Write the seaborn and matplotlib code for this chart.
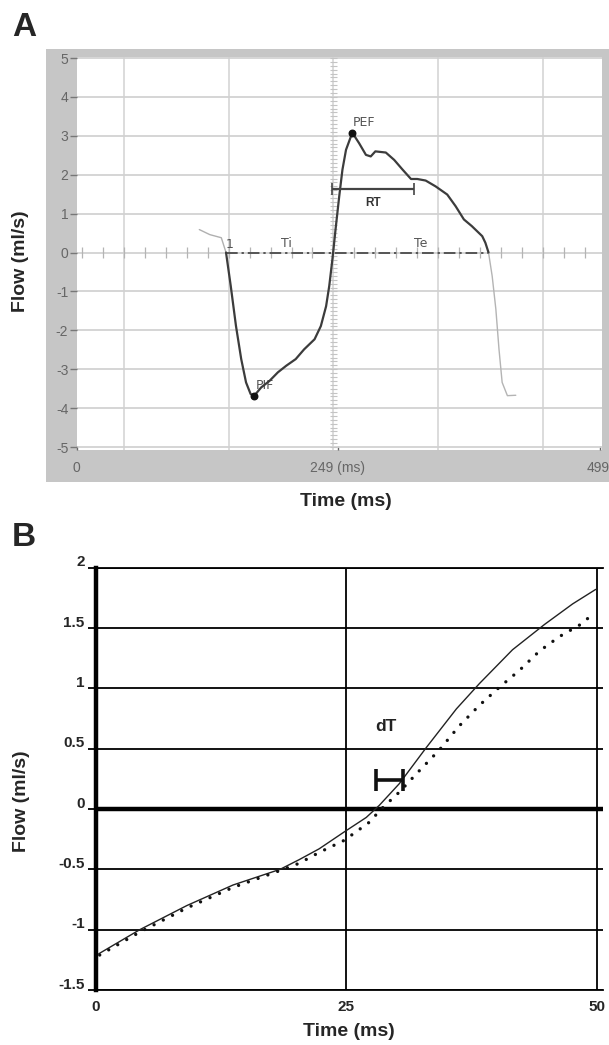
import numpy as np
import pandas as pd
import matplotlib
matplotlib.use("Agg")
import matplotlib.pyplot as plt
import seaborn as sns
from matplotlib.patches import Rectangle
from matplotlib.transforms import ScaledTranslation

# ---------------- data: panel A (Time ms, Flow ml/s) ----------------
pre_t = [117, 127, 138, 142.5]
pre_f = [0.59, 0.46, 0.38, 0.0]
main_t = [142.5, 147, 152, 157, 161.6, 166, 169.5, 176, 184, 192, 200, 209, 217, 227,
          233, 238, 241, 244, 247, 250.5, 253.6, 257, 263, 269.5, 276, 280.6, 285, 295,
          303, 311, 319, 325, 333, 342.5, 353.6, 361.6, 369.5, 377, 387, 390, 393]
main_f = [0, -0.86, -1.89, -2.74, -3.34, -3.64, -3.68, -3.47, -3.3, -3.08, -2.91, -2.74,
          -2.49, -2.23, -1.89, -1.38, -0.86, -0.18, 0.59, 1.44, 2.13, 2.64, 3.08, 2.81,
          2.51, 2.47, 2.6, 2.57, 2.38, 2.13, 1.89, 1.89, 1.85, 1.7, 1.49, 1.19, 0.85,
          0.68, 0.42, 0.25, 0]
post_t = [393, 396.5, 400, 403, 406, 411, 419]
post_f = [0, -0.61, -1.46, -2.49, -3.34, -3.68, -3.67]

pif_t, pif_f = 169.5, -3.68
pef_t, pef_f = 263, 3.08
ti_start, te_end = 142.5, 393
rt_start, rt_end, rt_flow = 244, 322, 1.64

a_xticks = [0, 249, 499]
a_xticklabels = ["0", "249 (ms)", "499"]
a_yticks = [5, 4, 3, 2, 1, 0, -1, -2, -3, -4, -5]
a_grid_x = [45, 145, 245, 345, 445]
a_center_axis = 245

# ---------------- data: panel B ----------------
solid_t = [0.3, 4.4, 9.1, 13.7, 18.4, 20.3, 22.3, 24.8, 27.0, 28.3, 30.3, 33.0, 36.0,
           38.3, 41.6, 44.8, 47.6, 49.9]
solid_f = [-1.2, -1.0, -0.8, -0.63, -0.5, -0.42, -0.33, -0.19, -0.07, 0.03, 0.21, 0.51,
           0.83, 1.04, 1.32, 1.53, 1.70, 1.82]
dot_t = [0.4, 4.4, 9.1, 13.7, 18.4, 20.3, 22.3, 24.8, 27.3, 28.5, 30.3, 32.1, 34.3,
         36.3, 38.3, 40.3, 42.3, 44.3, 46.3, 48.4, 49.4]
dot_f = [-1.21, -1.02, -0.82, -0.65, -0.51, -0.45, -0.36, -0.26, -0.11, 0.0, 0.14, 0.30,
         0.49, 0.69, 0.86, 1.01, 1.15, 1.31, 1.43, 1.53, 1.60]
dt_start, dt_end, dt_flow = 28.0, 30.7, 0.24
b_xticks = [0, 25, 50]
b_yticks = [-1.5, -1, -0.5, 0, 0.5, 1, 1.5, 2]
b_yticklabels = ["-1.5", "-1", "-0.5", "0", "0.5", "1", "1.5", "2"]

# ---------------- figure ----------------
sns.set_theme(style="white")
plt.rcParams["font.family"] = ["Liberation Sans", "DejaVu Sans"]
plt.rcParams["axes.unicode_minus"] = False

W, H = 609, 1045
fig = plt.figure(figsize=(W / 100, H / 100), dpi=100)
fig.patch.set_facecolor("white")


def fx(px):
    return px / W


def fy(py):
    return 1 - py / H


# gray frame behind panel A
fig.patches.append(Rectangle((fx(46), fy(482)), fx(620) - fx(46), fy(49) - fy(482),
                             transform=fig.transFigure, facecolor="#c6c6c6",
                             edgecolor="none", zorder=-10))

# ---------------- panel A ----------------
axA = fig.add_axes([fx(76.7), fy(450), fx(601.7) - fx(76.7), fy(57) - fy(450)])
axA.set_facecolor("white")
axA.set_xlim(0, 501)
axA.set_ylim(-5.077, 5.026)
for s in axA.spines.values():
    s.set_visible(False)

axA.set_yticks(a_yticks)
axA.set_yticklabels([str(v) for v in a_yticks])
axA.set_xticks(a_xticks)
axA.set_xticklabels(a_xticklabels)
axA.set_xticks(a_grid_x, minor=True)
axA.tick_params(axis="y", direction="out", length=5, width=1, color="#777",
                labelsize=10, labelcolor="#666", pad=1, left=True)
axA.tick_params(axis="x", which="major", direction="in", length=3, width=1, color="#666",
                labelsize=10, labelcolor="#666", pad=8, bottom=True)
axA.tick_params(axis="x", which="minor", length=0)
xlabs = axA.get_xticklabels()
xlabs[-1].set_horizontalalignment("right")
xlabs[-1].set_transform(xlabs[-1].get_transform()
                        + ScaledTranslation(7 / 72, 0, fig.dpi_scale_trans))
axA.grid(True, axis="y", which="major", color="#d2d2d2", lw=1.3)
axA.grid(True, axis="x", which="minor", color="#d2d2d2", lw=1.1)
axA.grid(False, axis="x", which="major")
axA.set_axisbelow(True)

# minor ticks along the central vertical axis and the zero axis
cy = np.arange(-5, 5.01, 0.1)
axA.hlines(cy, a_center_axis - 3, a_center_axis + 3, color="#c4c4c4", lw=0.8, zorder=1)
cx = np.arange(5, 500, 20)
axA.vlines(cx, -0.15, 0.15, color="#b4b4b4", lw=0.9, zorder=1)

# zero dash-dot line (Ti + Te)
axA.plot([ti_start, te_end], [0, 0], color="#555555", lw=1.4,
         linestyle=(0, (6, 2, 1.2, 2)), zorder=2)

sns.lineplot(x=pre_t, y=pre_f, ax=axA, color="#b0b0b0", lw=1.0, zorder=3)
sns.lineplot(x=main_t, y=main_f, ax=axA, color="#3c3c3c", lw=1.6, zorder=4)
sns.lineplot(x=post_t, y=post_f, ax=axA, color="#b4b4b4", lw=1.0, zorder=3)
axA.scatter([pif_t, pef_t], [pif_f, pef_f], s=22, color="#111111", zorder=5)

rt_mid = (rt_start + rt_end) / 2
axA.errorbar([rt_mid], [rt_flow], xerr=[(rt_end - rt_start) / 2], fmt="none",
             ecolor="#444444", elinewidth=1.6, capsize=4, capthick=1.2, zorder=5)

lab_kw = dict(color="#555555", fontsize=9, family=["DejaVu Sans"])
axA.text(rt_mid, 1.28, "RT", ha="center", va="center", color="#333333",
         fontsize=8.5, fontweight="bold")
axA.text(pef_t, 3.35, "PEF", ha="left", va="center", **lab_kw)
axA.text(171, -3.43, "PIF", ha="left", va="center", **lab_kw)
axA.text(ti_start + 3, 0.2, "1", ha="center", va="center", **lab_kw)
axA.text(200, 0.22, "Ti", ha="center", va="center", **lab_kw)
axA.text(328, 0.22, "Te", ha="center", va="center", **lab_kw)
axA.set_xlabel("")
axA.set_ylabel("")

fig.text(fx(24), fy(27), "A", ha="center", va="center", fontsize=24, fontweight="bold")
fig.text(fx(21), fy(261), "Flow (ml/s)", ha="center", va="center", rotation=90,
         fontsize=14, fontweight="bold")
fig.text(fx(346), fy(502), "Time (ms)", ha="center", va="center", fontsize=14,
         fontweight="bold")

# ---------------- panel B ----------------
axB = fig.add_axes([fx(95.7), fy(990), fx(602.7) - fx(95.7), fy(567.7) - fy(990)])
axB.set_facecolor("white")
axB.set_xlim(0, 50.6)
axB.set_ylim(-1.5, 2)
axB.spines["right"].set_visible(False)
axB.spines["left"].set_linewidth(3.2)
axB.spines["top"].set_linewidth(1.3)
axB.spines["bottom"].set_linewidth(1.3)
for k in ["left", "top", "bottom"]:
    axB.spines[k].set_color("black")
axB.set_xticks(b_xticks)
axB.set_xticklabels([str(v) for v in b_xticks])
axB.set_yticks(b_yticks)
axB.set_yticklabels(b_yticklabels)
axB.tick_params(axis="y", direction="out", length=6, width=1.3, color="black",
                labelsize=11, pad=2, left=True)
axB.tick_params(axis="x", length=0, labelsize=11, pad=7)
for lab in axB.get_yticklabels() + axB.get_xticklabels():
    lab.set_fontweight("bold")
for lab in axB.get_yticklabels():
    lab.set_transform(lab.get_transform() + ScaledTranslation(0, 5 / 72, fig.dpi_scale_trans))
axB.grid(True, axis="both", color="black", lw=1.3)
axB.set_axisbelow(True)
axB.axhline(0, color="black", lw=3.2, zorder=2)

sns.lineplot(x=solid_t, y=solid_f, ax=axB, color="#222222", lw=1.0, zorder=4)
sns.lineplot(x=dot_t, y=dot_f, ax=axB, color="#111111", lw=2.4,
             linestyle=(0, (0.01, 3.1)), dash_capstyle="round", zorder=4)

dt_mid = (dt_start + dt_end) / 2
axB.errorbar([dt_mid], [dt_flow], xerr=[(dt_end - dt_start) / 2], fmt="none",
             ecolor="#111111", elinewidth=2.6, capsize=8, capthick=2.6, zorder=5)
axB.text(29.0, 0.68, "dT", ha="center", va="center", fontsize=12.5, fontweight="bold",
         color="#222222")
axB.set_xlabel("")
axB.set_ylabel("")

fig.text(fx(24), fy(537), "B", ha="center", va="center", fontsize=24, fontweight="bold")
fig.text(fx(22), fy(801), "Flow (ml/s)", ha="center", va="center", rotation=90,
         fontsize=14, fontweight="bold")
fig.text(fx(349), fy(1032), "Time (ms)", ha="center", va="center", fontsize=14,
         fontweight="bold")

fig.savefig("out.png", dpi=100)
